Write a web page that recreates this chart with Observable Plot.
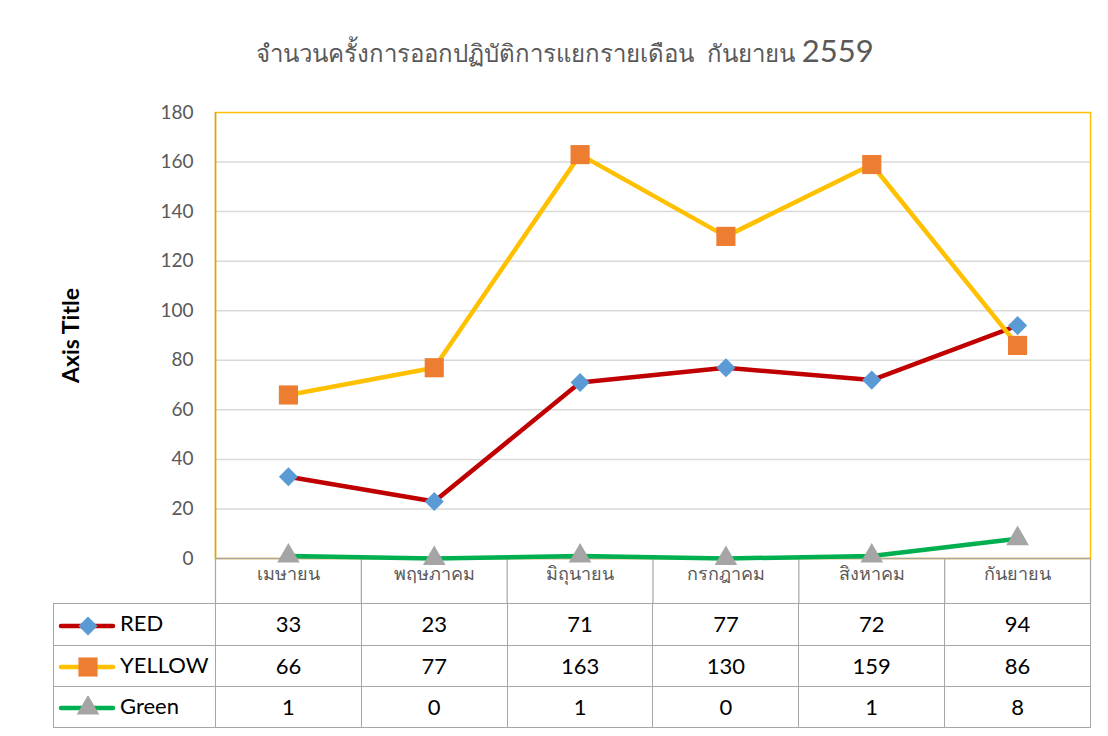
<!DOCTYPE html>
<html><head><meta charset="utf-8">
<script src="https://cdn.jsdelivr.net/npm/d3@7"></script>
<script src="https://cdn.jsdelivr.net/npm/@observablehq/plot@0.6"></script>
<style>
body{margin:0;background:#fff;font-family:Lato,"Noto Sans",sans-serif;}
#wrap{position:relative;width:1108px;height:736px;overflow:hidden;background:#fff;}
#title{position:absolute;top:30px;left:0;width:1130px;text-align:center;font-size:24px;color:#595959;line-height:40px;white-space:pre;font-weight:300;}
#title .yr{font-size:31px;font-weight:400;}
#chart{position:absolute;left:0;top:0;}
#tbl{position:absolute;border-collapse:collapse;font-size:22px;color:#000;table-layout:fixed;}
#tbl td{border:1px solid #a6a6a6;text-align:center;padding:0 0 2px 0;height:40px;box-sizing:border-box;}
#tbl td.lab{text-align:left;white-space:nowrap;}
#tbl td.lab svg{vertical-align:middle;margin-left:4px;margin-right:4px;}
g[aria-label="y-axis label"] text{font-weight:bold;font-size:23px;fill:#000;}
</style></head><body>
<div id="wrap">
<div id="title">จำนวนครั้งการออกปฏิบัติการแยกรายเดือน  กันยายน <span class="yr">2559</span></div>
<div id="chart"></div>
<table id="tbl"></table>
</div>
<script>
const months = ["เมษายน","พฤษภาคม","มิถุนายน","กรกฎาคม","สิงหาคม","กันยายน"];
const seriesNames = ["RED","YELLOW","Green"];
const red = [33,23,71,77,72,94];
const yellow = [66,77,163,130,159,86];
const green = [1,0,1,0,1,8];
const yTicks = [0,20,40,60,80,100,120,140,160,180];

const values = [red, yellow, green];
const styles = [
  {stroke:"#C00000", fill:"#5B9BD5", symbol:"diamond2", r:8.6},
  {stroke:"#FFC000", fill:"#ED7D31", symbol:"square", r:10.8},
  {stroke:"#00B050", fill:"#A5A5A5", symbol:"triangle", r:8.4}
];
const rows = seriesNames.map((name, s) => values[s].map((v, i) => ({series:name, pos:i + 0.5, month:months[i], value:v})));

const seriesMarks = rows.flatMap((data, s) => [
  Plot.line(data, {x:"pos", y:"value", stroke:styles[s].stroke, strokeWidth:4.5, strokeLinejoin:"round", strokeLinecap:"round"}),
  Plot.dot(data, {x:"pos", y:"value", symbol:styles[s].symbol, fill:styles[s].fill, r:styles[s].r, stroke:"none"})
]);

const chart = Plot.plot({
  width:1108, height:603,
  marginTop:112, marginBottom:45, marginLeft:215, marginRight:18,
  style:{fontFamily:'Lato,"Noto Sans",sans-serif', background:"transparent", overflow:"visible"},
  x:{domain:[0,6]},
  y:{domain:[0,180]},
  marks:[
    Plot.ruleY(yTicks.filter(t => t > 0 && t < 180), {stroke:"#d9d9d9", strokeWidth:1.5}),
    Plot.axisY({ticks:yTicks, tickSize:0, tickPadding:22, fontSize:19, fill:"#595959", label:"Axis Title", labelAnchor:"center", labelOffset:153, labelArrow:"none"}),
    Plot.axisX({ticks:d3.range(7), tickSize:45, tickFormat:() => "", stroke:"#a6a6a6", strokeWidth:1.2, label:null}),
    Plot.axisX({ticks:months.map((m, i) => i + 0.5), tickSize:0, tickPadding:9, tickFormat:v => months[Math.round(v - 0.5)], fontSize:18, fill:"#595959", label:null}),
    Plot.frame({stroke:"#FFC000", strokeWidth:1.5}),
    Plot.ruleX([0], {stroke:"#c9a545", strokeWidth:1.5}),
    Plot.ruleY([0], {stroke:"#a6a6a6", strokeWidth:1.5}),
    ...seriesMarks
  ]
});
document.getElementById("chart").appendChild(chart);

// data table aligned with the x scale
const xs = chart.scale("x");
const left0 = 53;
const x0 = xs.apply(0);
const tbl = document.getElementById("tbl");
tbl.style.left = left0 + "px";
tbl.style.top = "603px";
const cg = document.createElement("colgroup");
const widths = [x0 - left0].concat(d3.range(6).map(i => xs.apply(i + 1) - xs.apply(i)));
tbl.style.width = d3.sum(widths) + "px";
widths.forEach(w => { const c = document.createElement("col"); c.style.width = w + "px"; cg.appendChild(c); });
tbl.appendChild(cg);
const rowH = [42, 41, 41];
const symMap = {diamond2:d3.symbolDiamond2, square:d3.symbolSquare, triangle:d3.symbolTriangle};
seriesNames.forEach((name, s) => {
  const tr = document.createElement("tr");
  const td = document.createElement("td");
  td.className = "lab";
  td.style.height = rowH[s] + "px";
  const st = styles[s];
  const path = d3.symbol(symMap[st.symbol], Math.PI * st.r * st.r)();
  td.innerHTML = `<svg width="58" height="24" viewBox="0 0 58 24"><line x1="3" y1="12" x2="55" y2="12" stroke="${st.stroke}" stroke-width="4.5" stroke-linecap="round"/><path d="${path}" transform="translate(30,12)" fill="${st.fill}"/></svg>${name}`;
  tr.appendChild(td);
  values[s].forEach(v => { const c = document.createElement("td"); c.textContent = v; tr.appendChild(c); });
  tbl.appendChild(tr);
});
</script>
</body></html>
